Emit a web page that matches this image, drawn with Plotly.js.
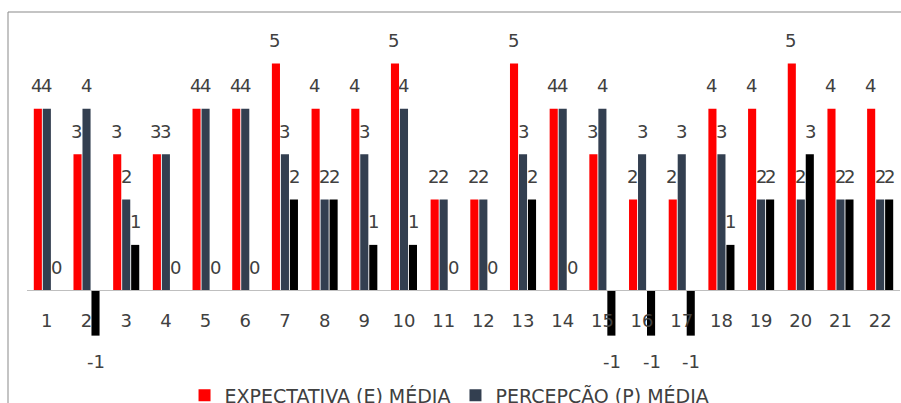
<!DOCTYPE html>
<html>
<head>
<meta charset="utf-8">
<script src="https://cdn.plot.ly/plotly-3.0.1.min.js"></script>
<style>html,body{margin:0;padding:0;background:#fff;}#chart{width:901px;height:403px;}</style>
</head>
<body>
<div id="chart"></div>
<script>
const categories = ["1","2","3","4","5","6","7","8","9","10","11","12","13","14","15","16","17","18","19","20","21","22"];
const expectativa = [4,3,3,3,4,4,5,4,4,5,2,2,5,4,3,2,2,4,4,5,4,4];
const percepcao   = [4,4,2,3,4,4,3,2,3,4,2,2,3,4,4,3,3,3,2,2,2,2];
const gap         = [0,-1,1,0,0,0,2,2,1,1,0,0,2,0,-1,-1,-1,1,2,3,2,2];
const seriesNames = ["EXPECTATIVA (E) MÉDIA", "PERCEPCÃO (P) MÉDIA", "GAP (E-P)"];
const seriesColors = ["#FF0000", "#333F50", "#000000"];
const seriesData = [expectativa, percepcao, gap];

const FONT = "DejaVu Sans";
const LABEL_COLOR = "#404040";

const traces = seriesData.map((vals, i) => ({
  type: "bar",
  x: categories,
  y: vals,
  name: seriesNames[i],
  marker: {color: seriesColors[i]},
  showlegend: i < 2,
  hoverinfo: "x+y"
}));

const annotations = [];
const xshifts = [-10, 0, 9.5];
seriesData.forEach((vals, i) => {
  vals.forEach((v, j) => {
    annotations.push({
      x: j, y: v, xref: "x", yref: "y",
      text: String(v), showarrow: false,
      xshift: xshifts[i], yshift: v < 0 ? -26 : 23,
      font: {family: FONT, size: 18, color: LABEL_COLOR}
    });
  });
});

const yMin = -2, yMax = 6;
const layout = {
  width: 901, height: 403,
  margin: {l: 27, r: 1, t: 18, b: 22, autoexpand: false},
  paper_bgcolor: "#ffffff", plot_bgcolor: "rgba(0,0,0,0)",
  barmode: "group", bargap: 0.32, bargroupgap: 0.1,
  font: {family: FONT, size: 18, color: LABEL_COLOR},
  xaxis: {
    type: "category", range: [-0.5, 21.5],
    anchor: "free", position: (0 - yMin) / (yMax - yMin),
    showline: true, linecolor: "#BFBFBF", linewidth: 1,
    showgrid: false, zeroline: false, ticks: "",
    ticklabelstandoff: 14,
    tickfont: {family: FONT, size: 18, color: LABEL_COLOR}
  },
  yaxis: {range: [yMin, yMax], visible: false, showgrid: false, zeroline: false},
  showlegend: true,
  legend: {
    orientation: "h", x: 0.484, xanchor: "center", y: -0.04, yanchor: "middle",
    font: {family: FONT, size: 19, color: LABEL_COLOR},
    bgcolor: "rgba(0,0,0,0)", itemwidth: 30, tracegroupgap: 0
  },
  annotations: annotations,
  shapes: [{
    type: "rect", xref: "paper", yref: "paper",
    x0: (8 - 27) / 873, x1: 1.2, y0: -0.3, y1: (381 - 12) / 363,
    line: {color: "#898989", width: 1}, fillcolor: "rgba(0,0,0,0)", layer: "below"
  }]
};

Plotly.newPlot("chart", traces, layout, {displayModeBar: false, staticPlot: true});
</script>
</body>
</html>
